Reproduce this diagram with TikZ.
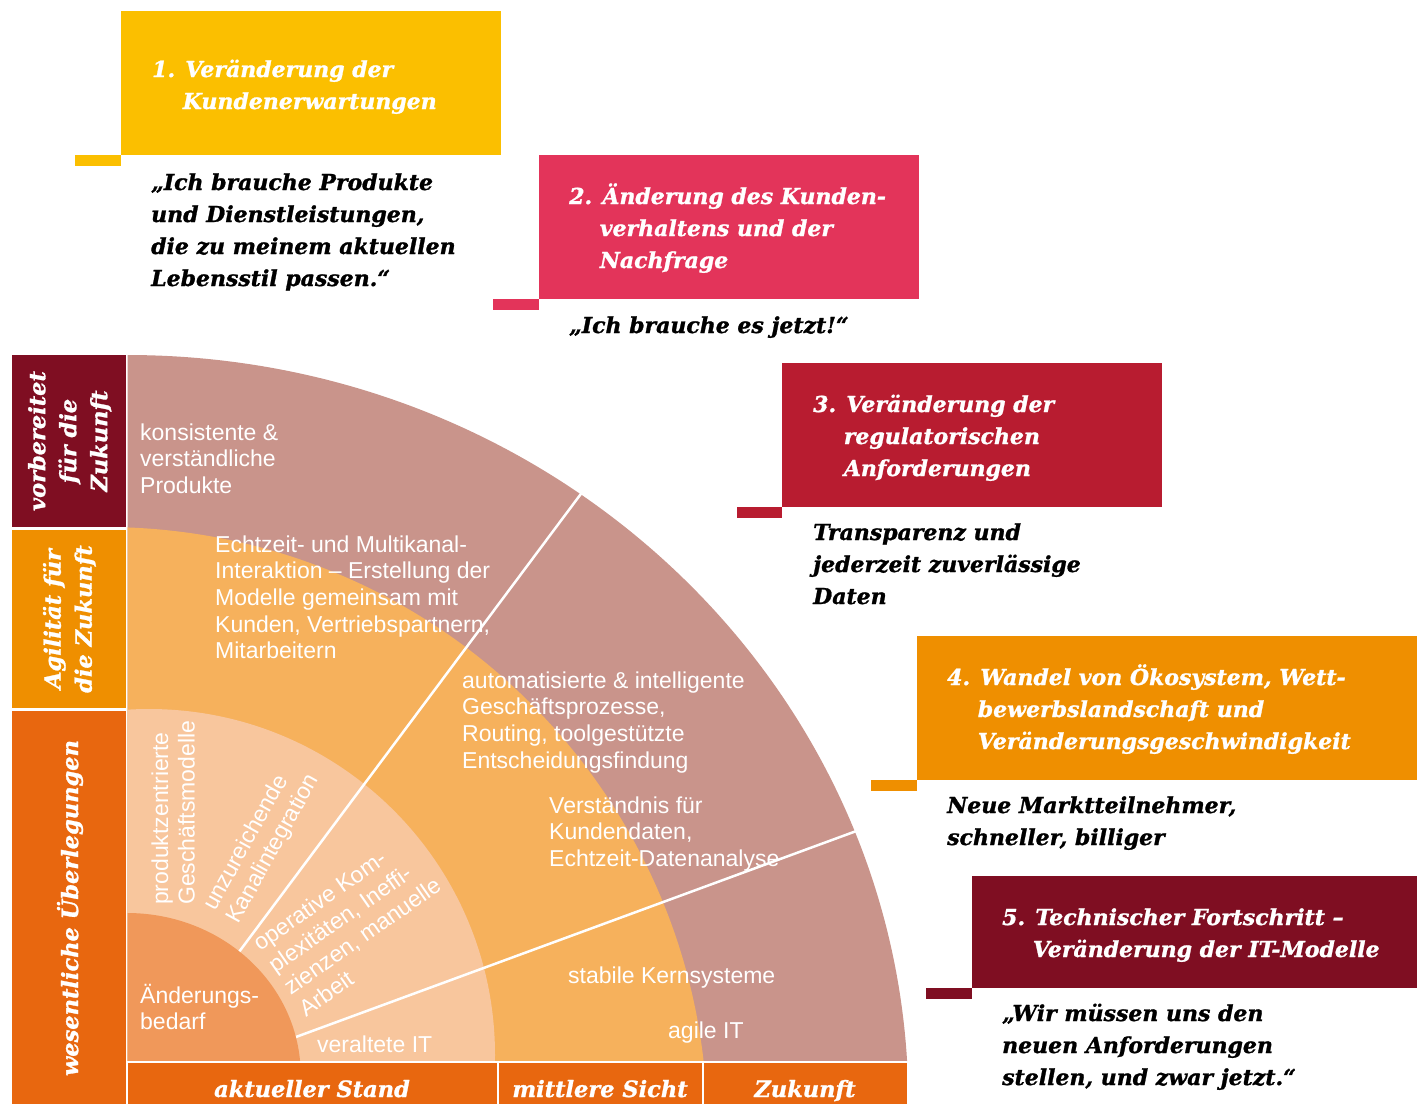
\documentclass[tikz,border=0pt]{standalone}
\usepackage{fontspec}
\setmainfont{Liberation Sans}
\newfontfamily\headfont{DejaVu Serif}[UprightFont=* Bold Italic, FakeBold=1.2]

\definecolor{mauve}{HTML}{C9948B}
\definecolor{ringorange}{HTML}{F6B15C}
\definecolor{peach}{HTML}{F8C69D}
\definecolor{corefill}{HTML}{F0985A}
\definecolor{burgundy}{HTML}{7F0E22}
\definecolor{amber}{HTML}{EF8F00}
\definecolor{rust}{HTML}{E8670F}
\definecolor{sun}{HTML}{FBBF00}
\definecolor{rose}{HTML}{E3345A}
\definecolor{crimson}{HTML}{B81C30}

\newcommand{\hd}{\headfont\fontsize{22}{32}\selectfont}
\newcommand{\sidefont}{\headfont\fontsize{22.5}{31}\selectfont}
\newcommand{\bd}{\fontsize{23}{26.7}\selectfont}
\newcommand{\ml}[1]{\begin{tabular}[t]{@{}l@{}}#1\end{tabular}}
\newcommand{\mc}[1]{\begin{tabular}{@{}c@{}}#1\end{tabular}}

\tikzset{
  head/.style={font=\hd, text=white, inner sep=0pt, anchor=base west},
  saying/.style={font=\hd, text=black, inner sep=0pt, anchor=base west},
  body/.style={font=\bd, text=white, inner sep=0pt, anchor=base west},
  side/.style={font=\sidefont, text=white, inner sep=0pt, rotate=90},
  foot/.style={font=\sidefont, text=white, inner sep=0pt, anchor=base},
  divider/.style={white, line width=2.5pt},
}

\begin{document}
\begin{tikzpicture}[x=1pt, y=-1pt]
\useasboundingbox (0,0) rectangle (1424,1104);
\fill[white] (0,0) rectangle (1424,1104);

% heading boxes with their small tabs
\fill[sun] (121,11) rectangle (501,155);
\fill[sun] (75,155) rectangle (121,166);
\fill[rose] (539,155) rectangle (919,299);
\fill[rose] (493,299) rectangle (539,310);
\fill[crimson] (782,363) rectangle (1162,507);
\fill[crimson] (737,507) rectangle (782,518);
\fill[amber] (917,636) rectangle (1417,780);
\fill[amber] (871,780) rectangle (917,791);
\fill[burgundy] (972,876) rectangle (1417,988);
\fill[burgundy] (926,988) rectangle (972,999);

% left column of category boxes
\fill[burgundy] (12,355) rectangle (125.5,527);
\fill[amber] (12,529.5) rectangle (125.5,708);
\fill[rust] (12,710.5) rectangle (125.5,1104);

% bottom time bar
\fill[rust] (127.5,1062.5) rectangle (497,1104);
\fill[rust] (499,1062.5) rectangle (702,1104);
\fill[rust] (704,1062.5) rectangle (907,1104);

% quarter rings
\begin{scope}
  \clip (127.5,1060.5) rectangle (1000,300);
  \fill[mauve] (127,1105) ellipse [x radius=781.4, y radius=750];
  \fill[ringorange] (104.5,1130) circle [radius=603];
  \fill[peach] (149,1055) circle [radius=346];
  \draw[divider] (230,964) -- (595,475);
  \draw[divider] (285,1041) -- (870,826);
  \fill[corefill] (127,1075) ellipse [x radius=173.7, y radius=162];
\end{scope}

% headings and statements
\node[head] (h1) at (152,77) {\ml{1. Veränderung der\\\phantom{1.\ }Kundenerwartungen}};
\node[saying] (q1) at (151,190) {\ml{„Ich brauche Produkte\\und Dienstleistungen,\\die zu meinem aktuellen\\Lebensstil passen.“}};
\node[head] (h2) at (569,204) {\ml{2. Änderung des Kunden-\\\phantom{2.\ }verhaltens und der\\\phantom{2.\ }Nachfrage}};
\node[saying] (q2) at (569,333) {„Ich brauche es jetzt!“};
\node[head] (h3) at (813,412) {\ml{3. Veränderung der\\\phantom{3.\ }regulatorischen\\\phantom{3.\ }Anforderungen}};
\node[saying] (q3) at (813,540) {\ml{Transparenz und\\jederzeit zuverlässige\\Daten}};
\node[head] (h4) at (947,685) {\ml{4. Wandel von Ökosystem, Wett-\\\phantom{4.\ }bewerbslandschaft und\\\phantom{4.\ }Veränderungsgeschwindigkeit}};
\node[saying] (q4) at (947,813) {\ml{Neue Marktteilnehmer,\\schneller, billiger}};
\node[head] (h5) at (1002,925) {\ml{5. Technischer Fortschritt –\\\phantom{5.\ }Veränderung der IT-Modelle}};
\node[saying] (q5) at (1002,1021) {\ml{„Wir müssen uns den\\neuen Anforderungen\\stellen, und zwar jetzt.“}};

% category labels
\node[side] (c1) at (70,441) {\mc{vorbereitet\\für die\\Zukunft}};
\node[side] (c2) at (70,619) {\mc{Agilität für\\die Zukunft}};
\node[side] (c3) at (70,908) {wesentliche Überlegungen};

% time labels
\node[foot] (f1) at (312,1097) {aktueller Stand};
\node[foot] (f2) at (600,1097) {mittlere Sicht};
\node[foot] (f3) at (805,1097) {Zukunft};

% ring texts
\node[body] (r1) at (140,440) {\ml{konsistente \&\\verständliche\\Produkte}};
\node[body] (r2) at (215,552) {\ml{Echtzeit- und Multikanal-\\Interaktion – Erstellung der\\Modelle gemeinsam mit\\Kunden, Vertriebspartnern,\\Mitarbeitern}};
\node[body] (r3) at (462,688) {\ml{automatisierte \& intelligente\\Geschäftsprozesse,\\Routing, toolgestützte\\Entscheidungsfindung}};
\node[body] (r4) at (549,813) {\ml{Verständnis für\\Kundendaten,\\Echtzeit-Datenanalyse}};
\node[body] (r5) at (568,983) {stabile Kernsysteme};
\node[body] (r6) at (668,1038) {agile IT};
\node[body] (r7) at (317,1052) {veraltete IT};
\node[body] (r8) at (140,1003) {\ml{Änderungs-\\bedarf}};
\node[body, rotate=90] (r9) at (168,905) {\ml{produktzentrierte\\Geschäftsmodelle}};
\node[body, rotate=61] (r10) at (215,912) {\ml{unzureichende\\Kanalintegration}};
\node[body, rotate=35] (r11) at (260,952) {\ml{operative Kom-\\plexitäten, Ineffi-\\zienzen, manuelle\\Arbeit}};
\end{tikzpicture}
\end{document}
